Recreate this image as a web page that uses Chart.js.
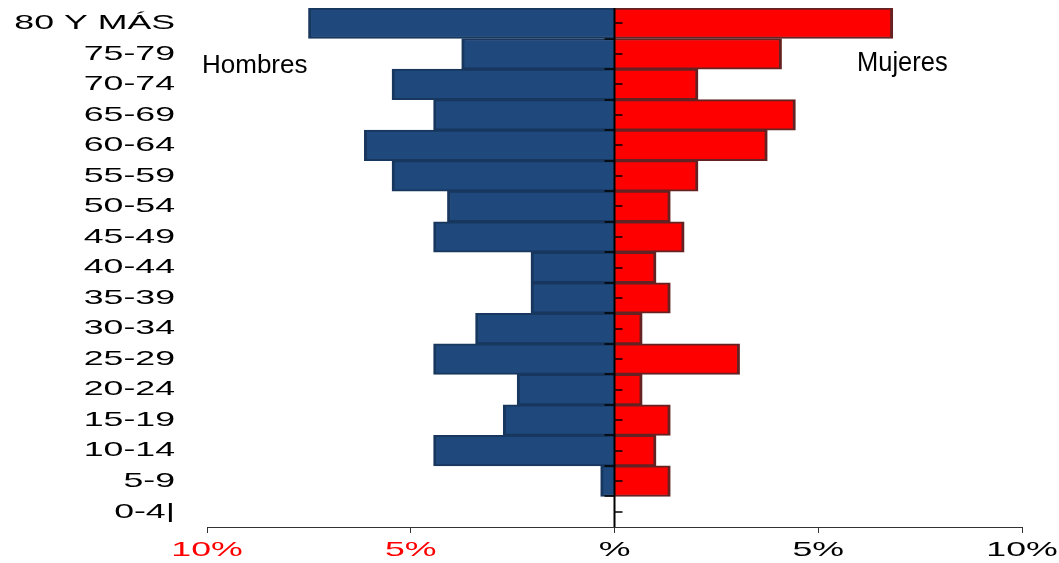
<!DOCTYPE html>
<html>
<head>
<meta charset="utf-8">
<script src="https://cdn.jsdelivr.net/npm/chart.js@4.4.1/dist/chart.umd.min.js"></script>
<style>
  body { margin: 0; background: #fff; }
</style>
</head>
<body>
<canvas id="myChart" width="1059" height="563"></canvas>
<script>
// age groups, top to bottom
const ageGroups = ['80 Y MÁS', '75-79', '70-74', '65-69', '60-64', '55-59', '50-54', '45-49',
    '40-44', '35-39', '30-34', '25-29', '20-24', '15-19', '10-14', '5-9', '0-4|'];

// share of total population (%)
const hombres = [7.51, 3.75, 5.46, 4.44, 6.14, 5.46, 4.10, 4.44, 2.05, 2.05, 3.41, 4.44, 2.39, 2.73, 4.44, 0.34, 0];
const mujeres = [6.83, 4.10, 2.05, 4.44, 3.75, 2.05, 1.37, 1.71, 1.02, 1.37, 0.68, 3.07, 0.68, 1.37, 1.02, 1.37, 0];

const xMin = -10;
const xMax = 10;
const xStep = 5;

const tickFont = { family: "'Liberation Sans', Arial, sans-serif", size: 21 };
const WIDE = 1.7; // horizontal stretch of the axis labels

// draw tick labels horizontally stretched around their own anchor
function stretchLabels(scale) {
    if (scale._wide) return;
    scale._wide = true;
    const getItems = scale.getLabelItems.bind(scale);
    const drawLabels = scale.drawLabels.bind(scale);
    scale.getLabelItems = (area) => getItems(area).map((it) => ({
        ...it,
        options: {
            ...it.options,
            translation: [it.options.translation[0] / WIDE, it.options.translation[1]]
        }
    }));
    scale.drawLabels = (area) => {
        const ctx = scale.ctx;
        ctx.save();
        ctx.scale(WIDE, 1);
        drawLabels(area);
        ctx.restore();
    };
}

const pyramidPlugin = {
    id: 'pyramid',
    afterLayout(chart) {
        stretchLabels(chart.scales.x);
        stretchLabels(chart.scales.y);
    },
    afterDatasetsDraw(chart) {
        const { ctx, chartArea, scales } = chart;
        const x0 = scales.x.getPixelForValue(0);
        const y = scales.y;
        const step = (y.getPixelForValue(1) - y.getPixelForValue(0));
        ctx.save();
        ctx.strokeStyle = '#000';
        // centre axis
        ctx.lineWidth = 2;
        ctx.beginPath();
        ctx.moveTo(x0, chartArea.top);
        ctx.lineTo(x0, chartArea.bottom);
        ctx.stroke();
        ctx.lineWidth = 1.5;
        for (let i = 0; i < ageGroups.length; i++) {
            const yc = y.getPixelForValue(i);
            // small marks between groups (left) and at each group (right)
            if (i > 0) {
                const yb = Math.round(yc - step / 2);
                ctx.beginPath();
                ctx.moveTo(x0 - 10, yb);
                ctx.lineTo(x0, yb);
                ctx.stroke();
            }
            ctx.beginPath();
            ctx.moveTo(x0, Math.round(yc));
            ctx.lineTo(x0 + 8, Math.round(yc));
            ctx.stroke();
        }
        ctx.restore();
    },
    afterDraw(chart) {
        const ctx = chart.ctx;
        ctx.save();
        ctx.fillStyle = '#000';
        ctx.textBaseline = 'alphabetic';
        ctx.font = "26px 'Liberation Sans', Arial, sans-serif";
        ctx.fillText('Hombres', 202, 73);
        ctx.translate(857, 71);
        ctx.scale(0.91, 1);
        ctx.font = "28px 'Liberation Sans', Arial, sans-serif";
        ctx.fillText('Mujeres', 0, 0);
        ctx.restore();
    }
};

function createChart() {
    const ctx = document.getElementById('myChart');

    new Chart(ctx, {
        type: 'bar',
        data: {
            labels: ageGroups,
            datasets: [
                {
                    label: 'Hombres',
                    data: hombres.map(v => -v),
                    backgroundColor: '#1f497d',
                    borderColor: '#17375e',
                    borderWidth: { top: 2, bottom: 2, left: 3, right: 3 },
                    borderSkipped: 'start',
                    barPercentage: 1,
                    categoryPercentage: 1
                },
                {
                    label: 'Mujeres',
                    data: mujeres,
                    backgroundColor: '#ff0000',
                    borderColor: '#652222',
                    borderWidth: { top: 2, bottom: 2, left: 3, right: 3 },
                    borderSkipped: 'start',
                    barPercentage: 1,
                    categoryPercentage: 1
                }
            ]
        },
        options: {
            indexAxis: 'y',
            responsive: false,
            animation: false,
            layout: {
                padding: { top: 8, right: 37, left: 0, bottom: 0 }
            },
            scales: {
                x: {
                    stacked: true,
                    min: xMin,
                    max: xMax,
                    afterFit: (s) => {
                        s.height = 36;
                        s.paddingLeft = 0;
                        s.paddingRight = 0;
                    },
                    grid: {
                        drawOnChartArea: false,
                        tickLength: 6,
                        color: '#333'
                    },
                    border: { display: true, color: '#333', width: 1 },
                    ticks: {
                        stepSize: xStep,
                        padding: 5,
                        font: tickFont,
                        color: (c) => c.tick.value < 0 ? '#ff0000' : '#000',
                        callback: (value) => value === 0 ? '%' : Math.abs(value) + '%'
                    }
                },
                y: {
                    stacked: true,
                    afterFit: (s) => {
                        s.width = 207;
                        s.paddingTop = 0;
                        s.paddingBottom = 0;
                    },
                    grid: { display: false },
                    border: { display: false },
                    ticks: {
                        padding: 24,
                        font: tickFont,
                        color: '#000'
                    }
                }
            },
            plugins: {
                legend: { display: false },
                tooltip: { enabled: false }
            }
        },
        plugins: [pyramidPlugin]
    });
}

createChart();
</script>
</body>
</html>
